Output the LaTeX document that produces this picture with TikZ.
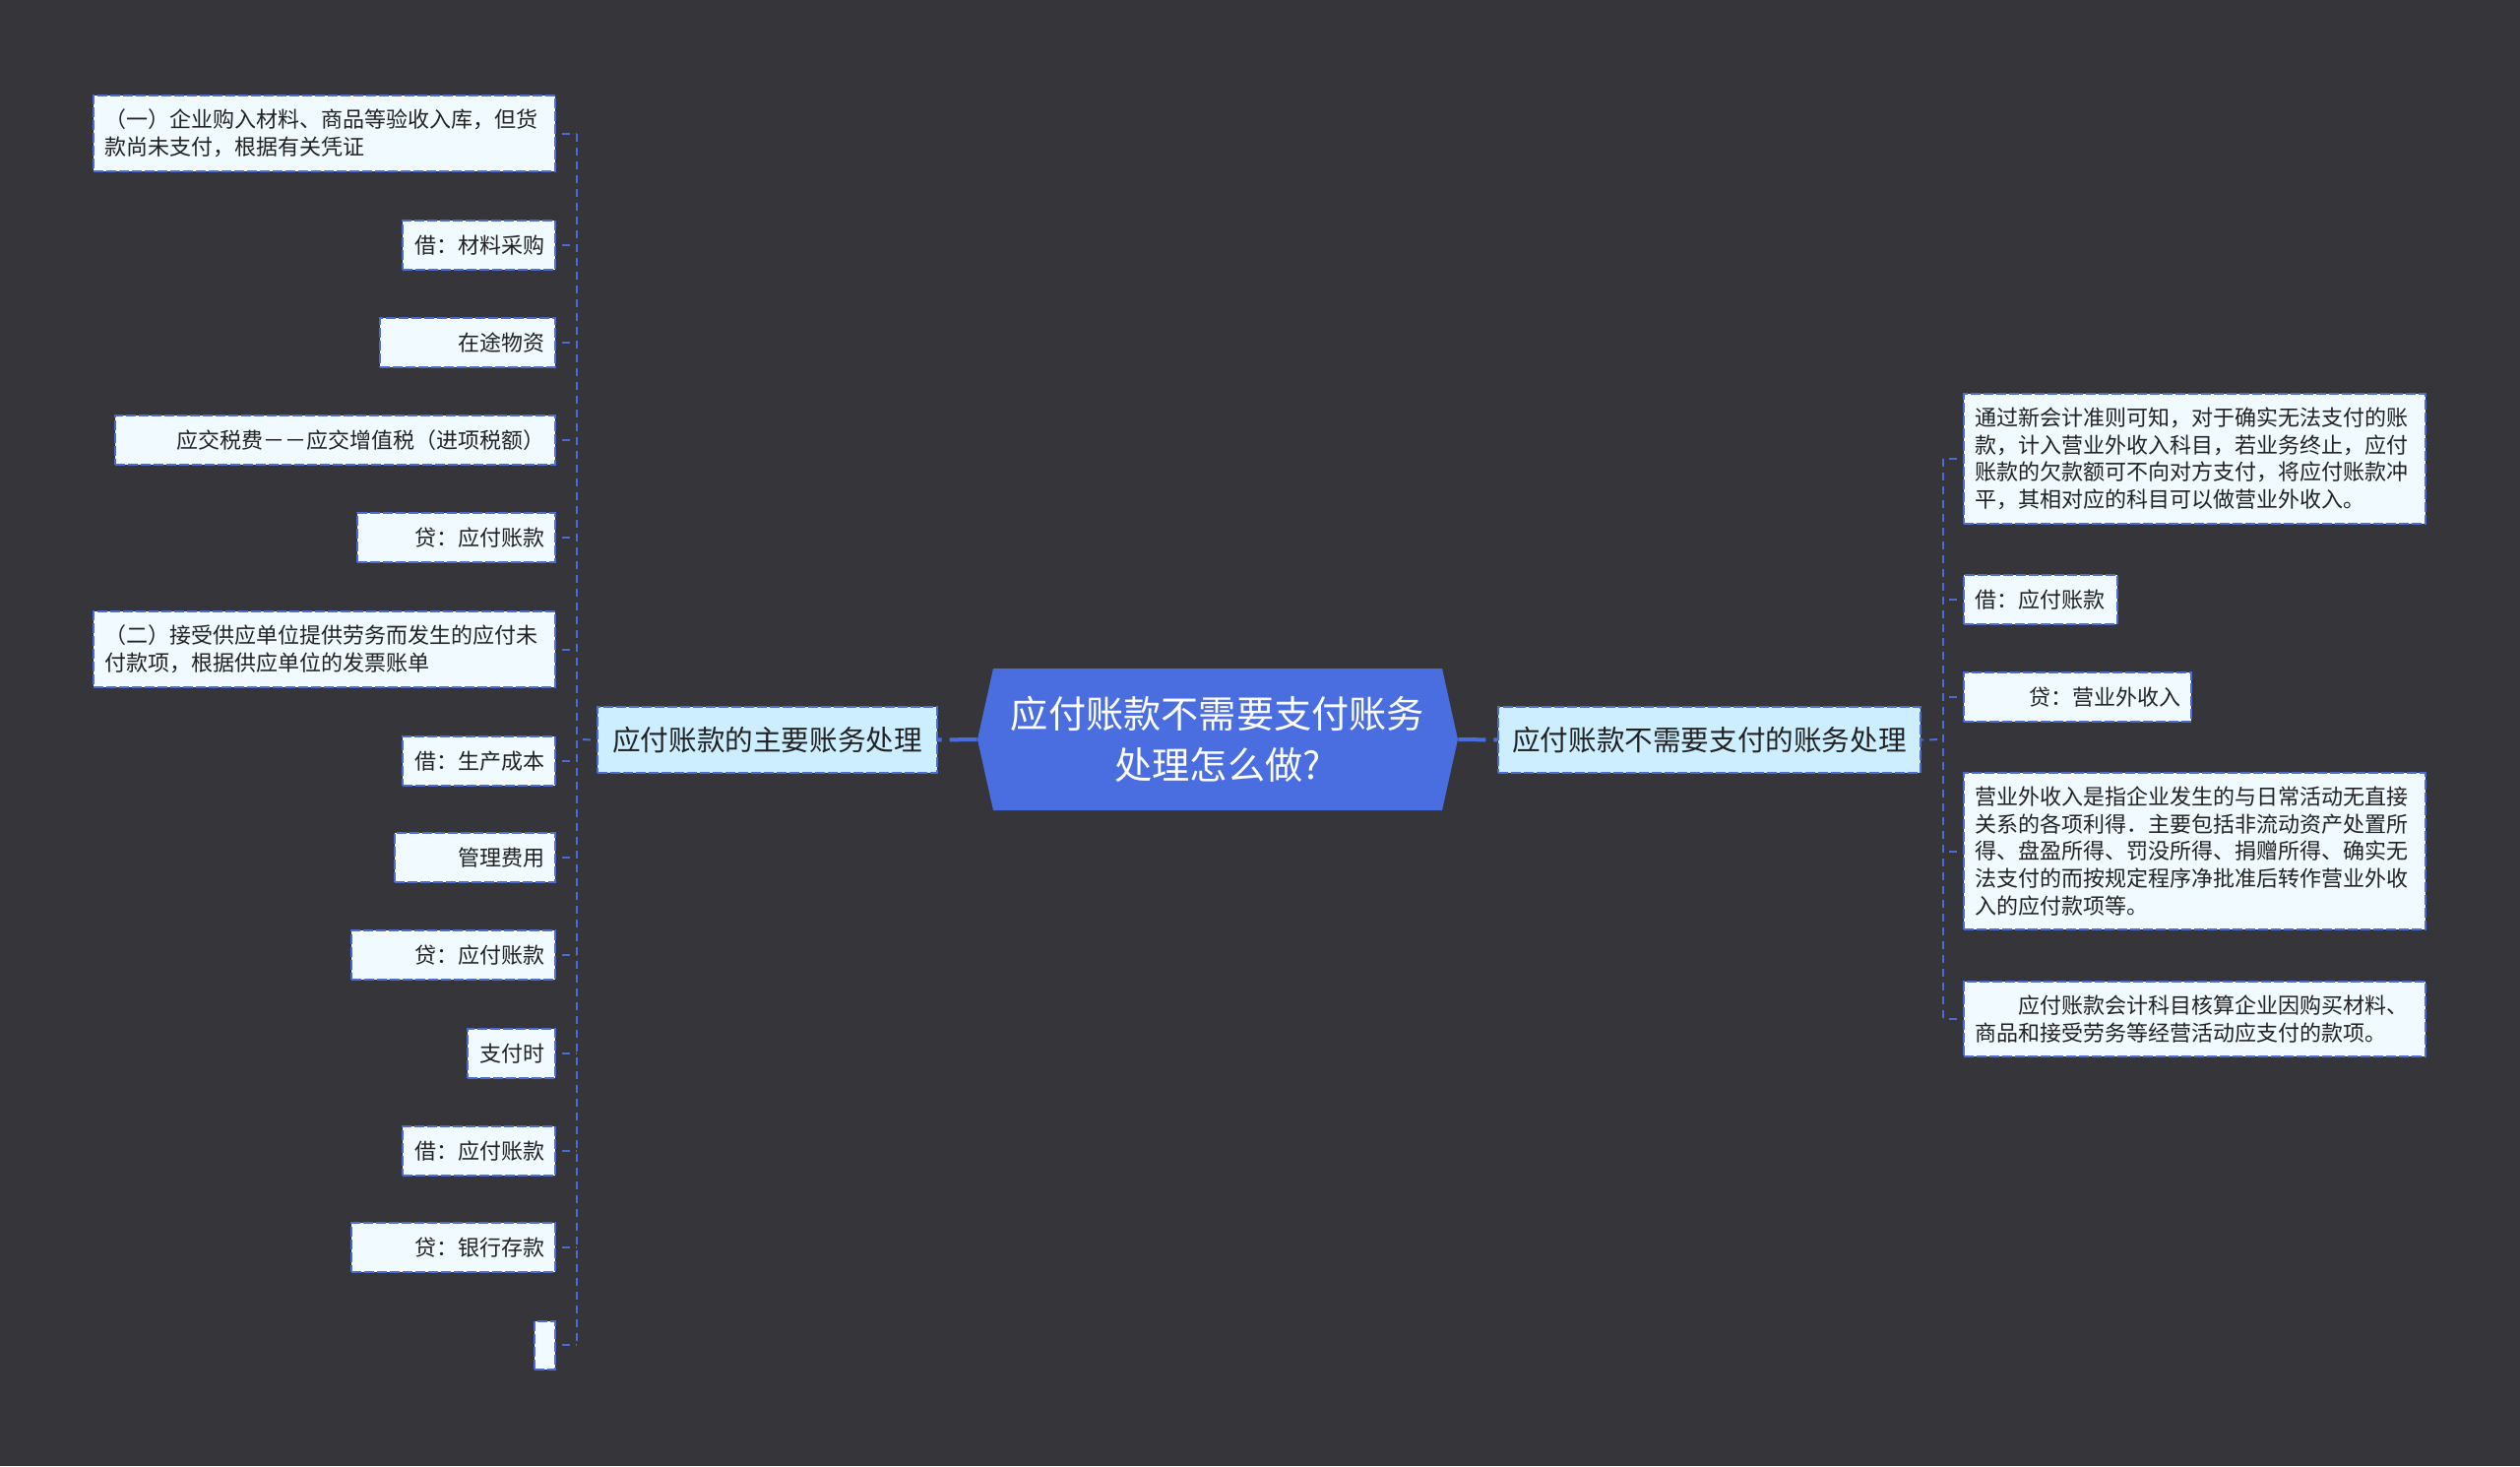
\documentclass[tikz,border=0pt]{standalone}
\usepackage{fontspec}
\setmainfont{Noto Sans CJK SC}
\usepackage{tikz}
\usetikzlibrary{calc,positioning}
\definecolor{bgcolor}{HTML}{363539}
\definecolor{rootblue}{HTML}{4A6EE0}
\definecolor{linkblue}{HTML}{4A6BD8}
\definecolor{leaffill}{HTML}{F0FAFF}
\definecolor{branchfill}{HTML}{CCEEFF}
\definecolor{inkgray}{HTML}{222222}
\newcommand\leaffont{\fontsize{11pt}{13.8pt}\selectfont}
\newcommand\branchfont{\fontsize{14.3pt}{17pt}\selectfont}
\newcommand\rootfont{\fontsize{19.1pt}{25.8pt}\selectfont}
\tikzset{%
	leaf/.style     = {draw=linkblue, line width=1pt, dash pattern=on 5pt off 1.5pt, fill=leaffill, text=inkgray, font=\leaffont, inner xsep=5.5pt, inner ysep=7pt, minimum height=25pt},
	leafr/.style    = {leaf, align=right},
	leafl/.style    = {leaf, align=left},
	branch/.style   = {draw=linkblue, line width=1pt, dash pattern=on 5pt off 1.5pt, fill=branchfill, text=inkgray, font=\branchfont, inner sep=2pt, minimum height=33.5pt},
	roottext/.style = {text=white, font=\rootfont, align=center, inner sep=0pt, minimum width=244pt, minimum height=72pt},
	trunk/.style    = {linkblue, line width=1pt, dash pattern=on 4pt off 3pt},
	stub/.style     = {trunk, dash phase=4pt},
	mainlink/.style = {rootblue, line width=2pt, dash pattern=on 14pt off 4pt},
}
\begin{document}
\begin{tikzpicture}[x=0.5pt,y=-0.5pt]
	\fill[bgcolor] (0,0) rectangle (2560,1489);
	\useasboundingbox (0,0) rectangle (2560,1489);
	% centre
	\fill[rootblue] (1009,679) -- (1465,679) -- (1481,751) -- (1465,823) -- (1009,823) -- (993,751) -- cycle;
	\node[roottext] (root) at (1237,751) {应付账款不需要支付账务\\处理怎么做?};
	\node[branch, minimum width=172.5pt] (lb) at (779.5,751.5) {应付账款的主要账务处理};
	\node[branch, minimum width=214.5pt] (rb) at (1736.5,751.5) {应付账款不需要支付的账务处理};
	\draw[mainlink] (root.west) -- (lb.east);
	\draw[mainlink] (root.east) -- (rb.west);
	% left leaves
	\node[leafl, anchor=east, text width=223.5pt] (l1) at (565,135.5) {（一）企业购入材料、商品等验收入库，但货\\款尚未支付，根据有关凭证};
	\node[leafr, anchor=east, text width=66.5pt] (l2) at (565,249) {借：材料采购};
	\node[leafr, anchor=east, text width=78pt] (l3) at (565,348) {在途物资};
	\node[leafr, anchor=east, text width=212.5pt] (l4) at (565,447) {应交税费－－应交增值税（进项税额）};
	\node[leafr, anchor=east, text width=89.5pt] (l5) at (565,546) {贷：应付账款};
	\node[leafl, anchor=east, text width=223.5pt] (l6) at (565,659.5) {（二）接受供应单位提供劳务而发生的应付未\\付款项，根据供应单位的发票账单};
	\node[leafr, anchor=east, text width=66.5pt] (l7) at (565,773) {借：生产成本};
	\node[leafr, anchor=east, text width=70.5pt] (l8) at (565,871) {管理费用};
	\node[leafr, anchor=east, text width=92.5pt] (l9) at (565,970) {贷：应付账款};
	\node[leafr, anchor=east, text width=33.5pt] (l10) at (565,1070) {支付时};
	\node[leafr, anchor=east, text width=66.5pt] (l11) at (565,1169) {借：应付账款};
	\node[leafr, anchor=east, text width=92.5pt] (l12) at (565,1267) {贷：银行存款};
	\node[leaf, anchor=east, inner sep=0pt, minimum width=10.5pt, minimum height=24.5pt] (l13) at (565,1366) {};
	% right leaves
	\node[leafl, anchor=west, text width=223.5pt] (r1) at (1994,466) {通过新会计准则可知，对于确实无法支付的账\\款，计入营业外收入科目，若业务终止，应付\\账款的欠款额可不向对方支付，将应付账款冲\\平，其相对应的科目可以做营业外收入。};
	\node[leafl, anchor=west, text width=67pt] (r2) at (1994,609) {借：应付账款};
	\node[leafr, anchor=west, text width=104.5pt] (r3) at (1994,708) {贷：营业外收入};
	\node[leafl, anchor=west, text width=223.5pt] (r4) at (1994,864.5) {营业外收入是指企业发生的与日常活动无直接\\关系的各项利得．主要包括非流动资产处置所\\得、盘盈所得、罚没所得、捐赠所得、确实无\\法支付的而按规定程序净批准后转作营业外收\\入的应付款项等。};
	\node[leafl, anchor=west, text width=223.5pt] (r5) at (1994,1035) {　　应付账款会计科目核算企业因购买材料、\\商品和接受劳务等经营活动应支付的款项。};
	% buses
	\coordinate (lbus) at (586,751);
	\coordinate (rbus) at (1974,751);
	\draw[stub] (lbus) -- (lb.west);
	\draw[stub] (rbus) -- (rb.east);
	\draw[trunk] (lbus |- l1.east) -- (lbus |- l13.east);
	\draw[trunk] (rbus |- r1.west) -- (rbus |- r5.west);
	\foreach \i in {1,...,13}
		\draw[stub] (l\i.east) -- (lbus |- l\i.east);
	\foreach \i in {1,...,5}
		\draw[stub] (r\i.west) -- (rbus |- r\i.west);
\end{tikzpicture}
\end{document}
